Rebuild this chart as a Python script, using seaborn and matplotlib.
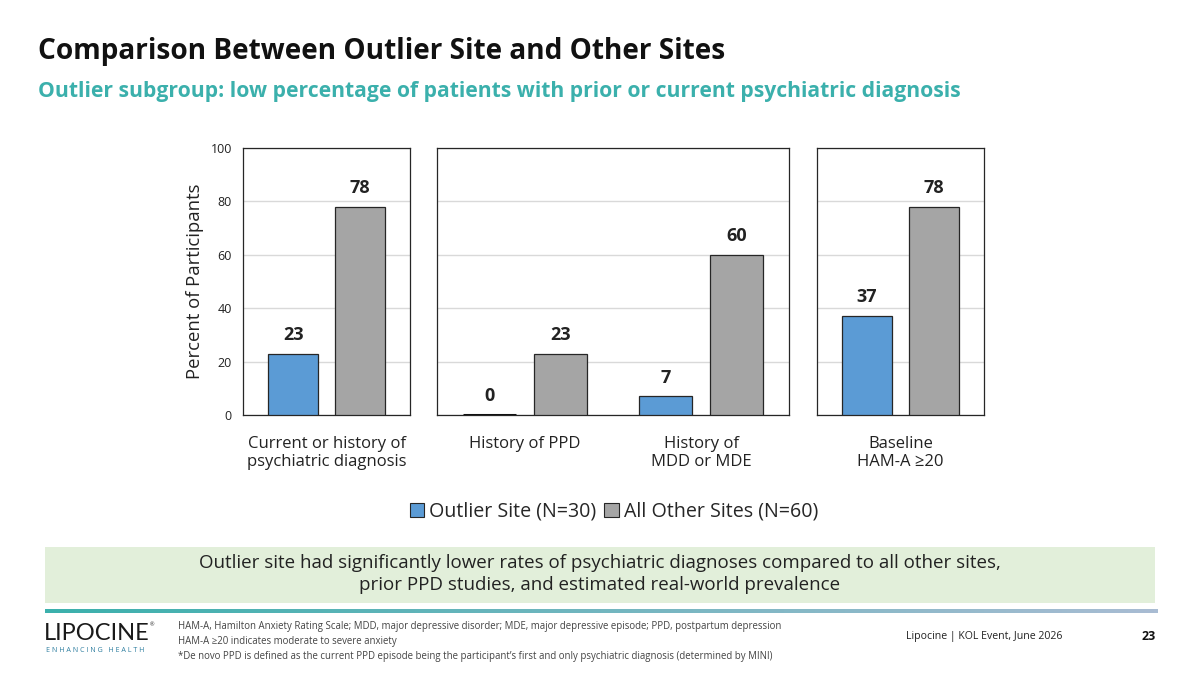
#plot.py
#outlier site vs other sites - grouped bars in three panels

import matplotlib.pyplot as plt
import matplotlib.patches as mpatches
from matplotlib.colors import LinearSegmentedColormap
import numpy as np
import pandas as pd
import seaborn as sns

#chart data
panel1_cats = ['Current or history of\npsychiatric diagnosis']
panel2_cats = ['History of PPD', 'History of\nMDD or MDE']
panel3_cats = ['Baseline\nHAM-A \u226520']
outlier_vals = [23, 0, 7, 37]
other_vals = [78, 23, 60, 78]
series_names = ['Outlier Site (N=30)', 'All Other Sites (N=60)']
y_ticks = [0, 20, 40, 60, 80, 100]

BLUE = '#5b9bd5'
GRAY = '#a5a5a5'
TEAL = '#3bb0ac'
EDGE = '#262626'

sns.set_style('white')
plt.rcParams['font.family'] = ['Open Sans', 'DejaVu Sans']

#long format table
all_cats = panel1_cats + panel2_cats + panel3_cats
rows = []
for c, a, b in zip(all_cats, outlier_vals, other_vals):
    rows.append({'cat': c, 'series': series_names[0], 'value': a})
    rows.append({'cat': c, 'series': series_names[1], 'value': b})
df = pd.DataFrame(rows)

fig = plt.figure(figsize=(12, 6.75), dpi=100)

bottom = 1 - 415 / 675
height = (415 - 148) / 675
panels = [
    (243, 410, panel1_cats),
    (437, 789, panel2_cats),
    (817, 984, panel3_cats),
]

for i, (x0, x1, cats) in enumerate(panels):
    ax = fig.add_axes([x0 / 1200, bottom, (x1 - x0) / 1200, height])
    sub = df[df['cat'].isin(cats)]
    sns.barplot(data=sub, x='cat', y='value', hue='series', order=cats,
                hue_order=series_names, palette=[BLUE, GRAY], saturation=1,
                width=0.8, gap=0.25, edgecolor=EDGE, linewidth=0.9,
                legend=False, ax=ax, zorder=3)
    #zero-height bars: make the outline visible like in the slide
    for p in ax.patches:
        if p.get_height() == 0:
            p.set_linewidth(2.2)
            p.set_edgecolor('#111111')
    ax.set_ylim(0, 100)
    ax.set_xlim(-0.5, len(cats) - 0.5)
    ax.set_yticks(y_ticks)
    ax.yaxis.grid(True, color='#d9d9d9', linewidth=1, zorder=0)
    ax.set_axisbelow(True)
    for s in ax.spines.values():
        s.set_color(EDGE)
        s.set_linewidth(0.9)
    ax.set_xlabel('')
    ax.tick_params(axis='x', length=0, pad=15, labelsize=12, colors='#222222')
    if i == 0:
        ax.tick_params(axis='y', length=0, pad=8, labelsize=9, colors='#222222')
        ax.set_ylabel('Percent of Participants', fontsize=13.3, labelpad=5, color='#222222')
    else:
        ax.set_yticklabels([])
        ax.tick_params(axis='y', length=0)
        ax.set_ylabel('')
    for container in ax.containers:
        ax.bar_label(container, fmt='%.0f', padding=7, fontsize=13,
                     fontweight='bold', color='#222222')

#legend
handles = [mpatches.Patch(facecolor=BLUE, edgecolor=EDGE, linewidth=0.8, label=series_names[0]),
           mpatches.Patch(facecolor=GRAY, edgecolor=EDGE, linewidth=0.8, label=series_names[1])]
fig.legend(handles=handles, loc='center', bbox_to_anchor=(614 / 1200, 1 - 512 / 675), ncol=2,
           frameon=False, fontsize=14.1, handlelength=0.75, handleheight=0.75,
           handletextpad=0.25, columnspacing=0.4)

#title and subtitle
fig.text(38 / 1200, 1 - 52 / 675, 'Comparison Between Outlier Site and Other Sites',
         fontsize=20.2, fontweight='bold', color='#111111', va='center')
fig.text(38 / 1200, 1 - 92 / 675,
         'Outlier subgroup: low percentage of patients with prior or current psychiatric diagnosis',
         fontsize=15.2, fontweight='bold', color=TEAL, va='center')

#green takeaway box
fig.patches.append(mpatches.Rectangle((45 / 1200, 1 - 603 / 675), 1110 / 1200, 56 / 675,
                                      transform=fig.transFigure, facecolor='#e2efda',
                                      edgecolor='none', zorder=0))
fig.text(600 / 1200, 1 - 574 / 675,
         'Outlier site had significantly lower rates of psychiatric diagnoses compared to all other sites,\n'
         'prior PPD studies, and estimated real-world prevalence',
         fontsize=13.5, color='#222222', ha='center', va='center', linespacing=1.25)

#teal gradient rule
grad_ax = fig.add_axes([45 / 1200, 1 - 613 / 675, 1113 / 1200, 4 / 675])
grad = np.linspace(0, 1, 256).reshape(1, -1)
cmap = LinearSegmentedColormap.from_list('rule', [TEAL, '#a9bcd3'])
grad_ax.imshow(grad, aspect='auto', cmap=cmap)
grad_ax.axis('off')

#logo
fig.text(44 / 1200, 1 - 634 / 675, 'LIPOCINE', fontsize=17,
         family=['Lato', 'DejaVu Sans'], color='#1a1a1a', va='center')
fig.text(150 / 1200, 1 - 625 / 675, '\u00ae', fontsize=4, color='#222222', va='center')
fig.text(46 / 1200, 1 - 650 / 675, 'E N H A N C I N G   H E A L T H', fontsize=5.1,
         color='#2f7fa0', va='center')

#footnotes
notes = ['HAM-A, Hamilton Anxiety Rating Scale; MDD, major depressive disorder; MDE, major depressive episode; PPD, postpartum depression',
         'HAM-A \u226520 indicates moderate to severe anxiety',
         '*De novo PPD is defined as the current PPD episode being the participant\u2019s first and only psychiatric diagnosis (determined by MINI)']
for k, line in enumerate(notes):
    fig.text(178 / 1200, 1 - (626 + k * 15.5) / 675, line, fontsize=6.9, color='#444444', va='center')

fig.text(1062 / 1200, 1 - 637 / 675, 'Lipocine | KOL Event, June 2026', fontsize=7.6,
         color='#222222', ha='right', va='center')
fig.text(1156 / 1200, 1 - 636 / 675, '23', fontsize=9, fontweight='bold',
         color='#111111', ha='right', va='center')

fig.savefig('out.png', dpi=100)
